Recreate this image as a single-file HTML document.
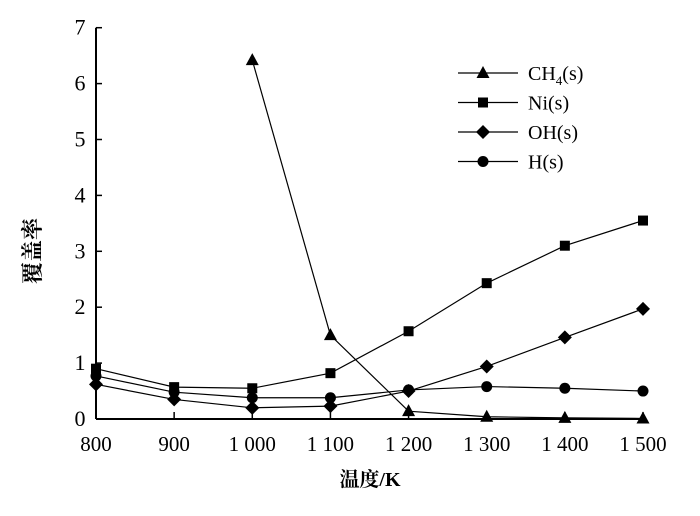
<!DOCTYPE html>
<html><head><meta charset="utf-8"><style>
body{margin:0;background:#fff}
svg text{font-family:"Liberation Serif","Noto Serif CJK SC",serif;fill:#000}
</style></head><body>
<svg id="c" width="700" height="511"></svg>
<script>
const categories=[800,900,1000,1100,1200,1300,1400,1500];
const xTickLabels=["800","900","1 000","1 100","1 200","1 300","1 400","1 500"];
const yTicks=[0,1,2,3,4,5,6,7];
const ch4=[null,null,6.42,1.5,0.14,0.04,0.02,0.01];
const ni=[0.9,0.57,0.55,0.82,1.57,2.43,3.1,3.55];
const oh=[0.62,0.35,0.2,0.23,0.5,0.94,1.46,1.97];
const hs=[0.77,0.48,0.38,0.38,0.52,0.58,0.55,0.5];
const seriesNames=["CH4(s)","Ni(s)","OH(s)","H(s)"];
const x=v=>96+(v-800)*(547/700);
const y=v=>419-v*55.9;
const s=document.getElementById('c'),NS="http://www.w3.org/2000/svg";
function el(t,a,p){const e=document.createElementNS(NS,t);for(const k in a)e.setAttribute(k,a[k]);(p||s).appendChild(e);return e;}
let e;
e=el('line',{x1:96,y1:y(7),x2:96,y2:419,stroke:'#000','stroke-width':2});


e=el('line',{x1:96,y1:419,x2:643,y2:419,stroke:'#000','stroke-width':2});


yTicks.forEach(v=>{
 el('line',{x1:96,y1:y(v),x2:102,y2:y(v),stroke:'#000','stroke-width':1.5});
 e=el('text',{x:80,y:y(v)+7,'font-size':22,'text-anchor':'middle'});e.textContent=v;
 
 
});
categories.forEach((c,i)=>{
 el('line',{x1:x(c),y1:412,x2:x(c),y2:419,stroke:'#000','stroke-width':1.5});
 e=el('text',{x:x(c),y:451,'font-size':21,'text-anchor':'middle'});e.textContent=xTickLabels[i];
 
 
});
e=el('text',{x:370,y:486,'font-size':20,'text-anchor':'middle','font-weight':'bold'});e.textContent="温度/K";


e=el('text',{x:0,y:0,'font-size':22,'text-anchor':'middle','font-weight':'bold',transform:'translate(40,251) rotate(-90)'});e.textContent="覆盖率";


function marker(t,cx,cy,g){
 if(t==='tri')el('polygon',{points:`${cx},${cy-7} ${cx-6.5},${cy+5} ${cx+6.5},${cy+5}`,fill:'#000'},g);
 else if(t==='sq')el('rect',{x:cx-5,y:cy-5,width:10,height:10,fill:'#000'},g);
 else if(t==='dia')el('polygon',{points:`${cx},${cy-7} ${cx+7},${cy} ${cx},${cy+7} ${cx-7},${cy}`,fill:'#000'},g);
 else el('circle',{cx:cx,cy:cy,r:5.5,fill:'#000'},g);
}
const all=[[ch4,'tri','series-ch4'],[ni,'sq','series-ni'],[oh,'dia','series-oh'],[hs,'circ','series-h']];
all.forEach(([d,m,n])=>{
 const g=el('g',{});
 
 
 const pts=[];d.forEach((v,i)=>{if(v!==null)pts.push(x(categories[i])+','+y(v));});
 el('polyline',{points:pts.join(' '),fill:'none',stroke:'#000','stroke-width':1.2},g);
 d.forEach((v,i)=>{if(v!==null)marker(m,x(categories[i]),y(v),g);});
});
all.forEach(([d,m],i)=>{
 const g=el('g',{});
 
 
 const yy=73+i*29.5;
 el('line',{x1:458,y1:yy,x2:518,y2:yy,stroke:'#000','stroke-width':1.2},g);
 marker(m,483,yy,g);
 const t=el('text',{x:528,y:yy+7,'font-size':20},g);
 if(i===0){t.innerHTML='CH<tspan font-size="13" dy="5">4</tspan><tspan dy="-5">(s)</tspan>';}
 else t.textContent=seriesNames[i];
});
</script>
</body></html>
